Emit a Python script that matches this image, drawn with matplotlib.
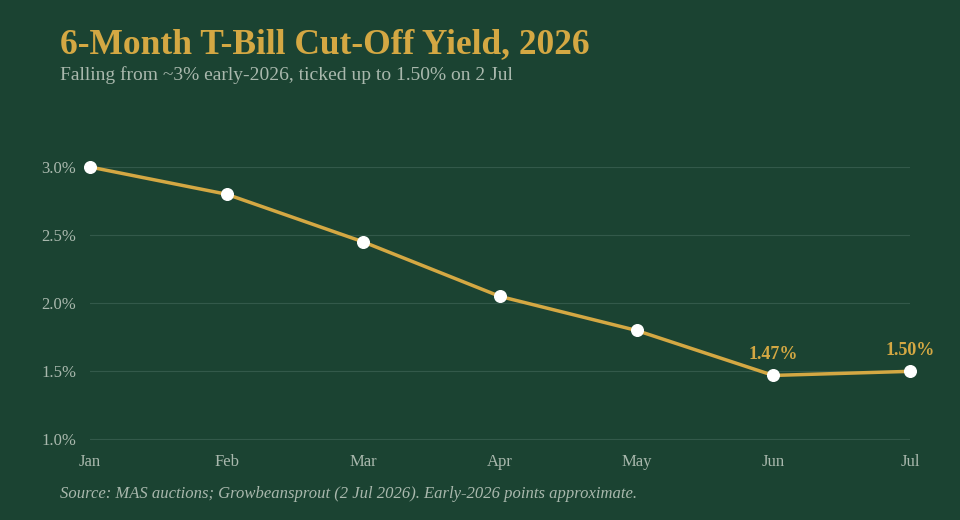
import matplotlib
matplotlib.use("Agg")
import matplotlib.pyplot as plt

months = ["Jan", "Feb", "Mar", "Apr", "May", "Jun", "Jul"]
yields = [3.00, 2.80, 2.45, 2.05, 1.80, 1.47, 1.50]
yticks = [1.0, 1.5, 2.0, 2.5, 3.0]

bg = "#1b4332"
gold = "#d4a843"
muted = "#a9b8ad"

plt.rcParams['font.family'] = ['Liberation Serif', 'DejaVu Serif']
fig = plt.figure(figsize=(9.6, 5.2), dpi=100, facecolor=bg)
ax = fig.add_axes([90/960, 1-440/520, 820/960, (440-167)/520])
ax.set_facecolor(bg)
x = list(range(len(months)))
ax.plot(x, yields, color=gold, lw=2.5, zorder=3, clip_on=False)
ax.scatter(x, yields, s=70, color="white", edgecolor="white", linewidth=1, zorder=4, clip_on=False)
for i in (5, 6):
    ax.annotate(f"{yields[i]:.2f}%", (x[i], yields[i]), xytext=(0, 9), textcoords="offset points",
                ha="center", va="bottom", color=gold, fontsize=13, fontweight="bold")
ax.set_xlim(0, 6)
ax.set_ylim(0.996, 3.0)
ax.set_xticks(x, months)
ax.set_yticks(yticks, [f"{v:.1f}%" for v in yticks])
ax.grid(axis="y", color="#33594a", lw=0.8)
ax.set_axisbelow(True)
for s in ax.spines.values():
    s.set_visible(False)
ax.tick_params(length=0, colors=muted, labelsize=12)
ax.tick_params(axis="x", pad=10)
ax.tick_params(axis="y", pad=10)
fig.text(60/960, 1-45/520, "6-Month T-Bill Cut-Off Yield, 2026", color=gold, fontsize=25.5,
         fontweight="bold", va="center")
fig.text(60/960, 1-75/520, "Falling from ~3% early-2026, ticked up to 1.50% on 2 Jul", color=muted,
         fontsize=14, va="center")
fig.text(60/960, 1-494/520, "Source: MAS auctions; Growbeansprout (2 Jul 2026). Early-2026 points approximate.",
         color=muted, fontsize=12, style="italic", va="center")
fig.savefig("out.png", dpi=100, facecolor=bg)
